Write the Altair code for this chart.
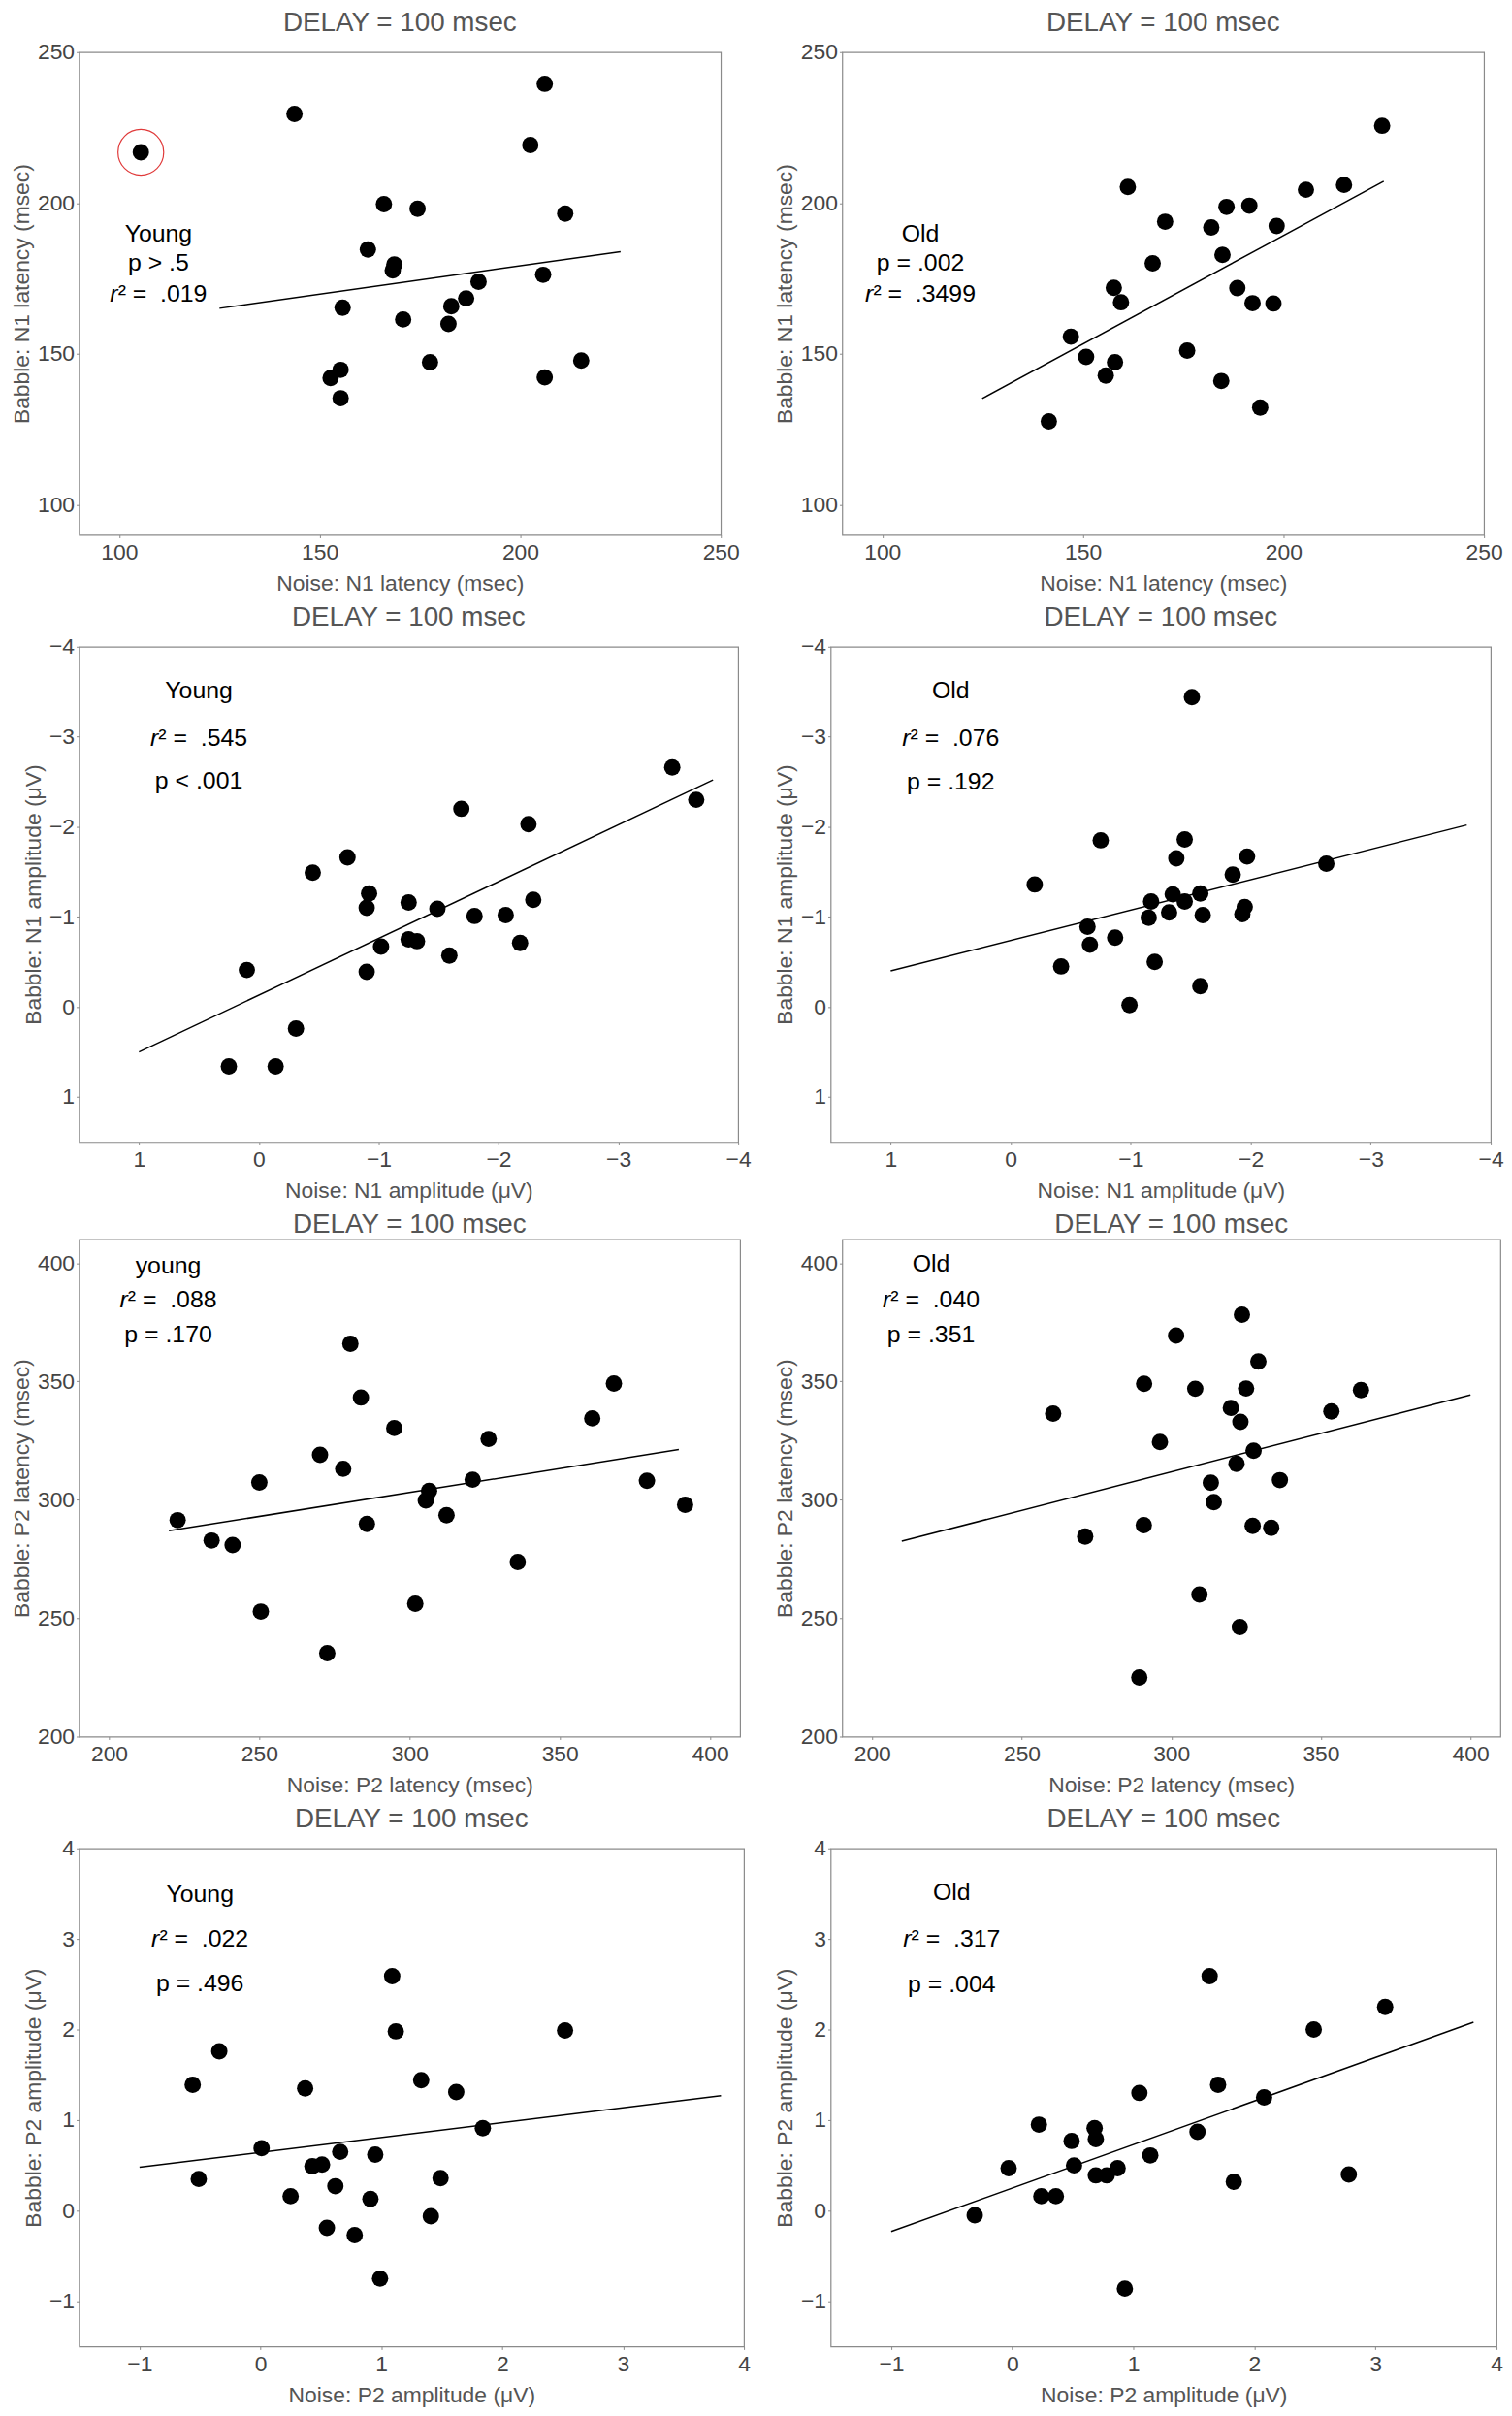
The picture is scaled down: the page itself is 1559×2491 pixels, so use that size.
import altair as alt
import pandas as pd

FONT = "Liberation Sans"
TITLE_TEXT = "DELAY = 100 msec"

# ---------------- Row 1: N1 latency ----------------
p1_x = [105.4, 143.7, 206.1, 202.5, 166.0, 174.4, 211.2, 162.0, 168.6, 168.2, 189.6, 205.7,
        186.5, 182.8, 155.7, 170.8, 182.1, 177.5, 215.2, 155.2, 152.7, 206.1, 155.2]
p1_y = [216.8, 229.5, 239.5, 219.2, 199.6, 198.1, 196.5, 184.6, 179.6, 177.7, 173.9, 176.2,
        168.4, 165.8, 165.3, 161.4, 159.9, 147.2, 147.8, 144.7, 142.0, 142.2, 135.3]
p1_line_x = [125, 225]
p1_line_y = [165.1, 183.9]
p1_circled_x = [105.4]
p1_circled_y = [216.8]
p1_text = ["Young", "p > .5"]
p1_text_x = [109.8, 109.8]
p1_text_y = [189.9, 180.0]
p1_r2 = ".019"
p1_r2_xy = [109.8, 169.9]

p2_x = [224.6, 161.2, 205.6, 215.1, 185.8, 191.5, 170.5, 182.0, 198.3, 184.8, 167.4, 157.7,
        188.5, 159.5, 192.3, 197.5, 147.0, 150.8, 158.0, 176.0, 155.7, 184.5, 194.2, 141.5]
p2_y = [225.6, 205.3, 204.4, 206.0, 198.7, 199.1, 193.8, 191.9, 192.4, 182.8, 180.0, 171.9,
        171.8, 167.1, 166.8, 166.7, 155.7, 149.0, 147.2, 151.1, 142.8, 141.0, 132.2, 127.6]
p2_line_x = [124.9, 225.0]
p2_line_y = [135.2, 207.2]
p2_text = ["Old", "p = .002"]
p2_text_x = [109.5, 109.5]
p2_text_y = [189.9, 180.0]
p2_r2 = ".3499"
p2_r2_xy = [109.5, 170.0]

# ---------------- Row 2: N1 amplitude ----------------
p3_x = [-3.45, -3.65, -1.69, -2.25, -0.74, -0.45, -0.92, -0.90, -1.25, -1.49, -2.29, -1.80,
        -2.06, -1.25, -1.32, -2.18, -1.02, -1.59, -0.90, 0.10, -0.31, 0.25, -0.14]
p3_y = [-2.66, -2.30, -2.20, -2.03, -1.66, -1.49, -1.26, -1.10, -1.16, -1.09, -1.19, -1.01,
        -1.02, -0.75, -0.73, -0.71, -0.67, -0.57, -0.39, -0.41, 0.24, 0.66, 0.66]
p3_line_x = [1.0, -3.79]
p3_line_y = [0.50, -2.52]
p3_text = ["Young", "p < .001"]
p3_text_x = [0.50, 0.50]
p3_text_y = [-3.51, -2.51]
p3_r2 = ".545"
p3_r2_xy = [0.50, -2.99]

p4_x = [-1.51, -0.75, -1.45, -1.38, -1.97, -2.63, -1.85, -0.20, -1.35, -1.58, -1.45, -1.17,
        -1.95, -1.93, -1.32, -1.15, -1.60, -0.64, -0.87, -0.66, -0.42, -1.20, -1.58, -0.99]
p4_y = [-3.44, -1.85, -1.86, -1.65, -1.67, -1.59, -1.47, -1.36, -1.25, -1.26, -1.17, -1.17,
        -1.11, -1.03, -1.05, -0.99, -1.02, -0.89, -0.77, -0.69, -0.45, -0.50, -0.23, -0.02]
p4_line_x = [1.0, -3.80]
p4_line_y = [-0.40, -2.02]
p4_text = ["Old", "p = .192"]
p4_text_x = [0.50, 0.50]
p4_text_y = [-3.51, -2.50]
p4_r2 = ".076"
p4_r2_xy = [0.50, -2.99]

# ---------------- Row 3: P2 latency ----------------
p5_x = [280.3, 368.0, 283.8, 360.8, 294.9, 326.3, 270.2, 277.9, 250.0, 321.0, 379.0, 306.5,
        305.4, 391.7, 312.3, 222.8, 285.8, 234.1, 241.1, 336.0, 301.9, 250.5, 272.6]
p5_y = [365.9, 349.1, 343.2, 334.4, 330.3, 325.7, 319.0, 313.1, 307.3, 308.5, 308.0, 303.7,
        299.7, 297.9, 293.5, 291.4, 289.8, 282.8, 280.9, 273.7, 256.1, 252.8, 235.2]
p5_line_x = [219.9, 389.6]
p5_line_y = [286.9, 321.2]
p5_text = ["young", "p = .170"]
p5_text_x = [219.7, 219.7]
p5_text_y = [398.8, 369.7]
p5_r2 = ".088"
p5_r2_xy = [219.7, 384.6]

p6_x = [323.6, 301.6, 329.1, 290.9, 308.0, 325.0, 363.4, 260.5, 353.5, 319.9, 323.1, 296.2,
        327.5, 321.8, 313.2, 336.3, 314.2, 290.8, 327.2, 333.4, 271.2, 309.4, 322.9, 289.3]
p6_y = [378.2, 369.4, 358.4, 349.0, 346.9, 347.0, 346.3, 336.4, 337.3, 338.8, 332.9, 324.4,
        320.7, 315.2, 307.2, 308.3, 299.0, 289.3, 289.0, 288.2, 284.5, 260.0, 246.3, 225.0]
p6_line_x = [209.9, 400.0]
p6_line_y = [282.5, 344.3]
p6_text = ["Old", "p = .351"]
p6_text_x = [219.7, 219.7]
p6_text_y = [399.5, 369.7]
p6_r2 = ".040"
p6_r2_xy = [219.7, 384.5]

# ---------------- Row 4: P2 amplitude ----------------
p7_x = [1.09, 1.12, 2.52, -0.34, -0.56, 0.37, 1.33, 1.62, 1.84, 0.01, 0.66, 0.95,
        0.43, 0.51, -0.51, 1.49, 0.62, 0.25, 0.91, 1.41, 0.55, 0.78, 0.99]
p7_y = [2.59, 1.98, 1.99, 1.76, 1.39, 1.35, 1.44, 1.31, 0.91, 0.69, 0.65, 0.62,
        0.49, 0.51, 0.35, 0.36, 0.27, 0.16, 0.13, -0.06, -0.19, -0.27, -0.75]
p7_line_x = [-1.0, 3.81]
p7_line_y = [0.48, 1.27]
p7_text = ["Young", "p = .496"]
p7_text_x = [-0.50, -0.50]
p7_text_y = [3.49, 2.51]
p7_r2 = ".022"
p7_r2_xy = [-0.50, 3.00]

p8_x = [1.63, 3.08, 2.49, 1.70, 1.05, 2.08, 0.22, 0.68, 1.53, 0.69, 0.49, 1.14,
        0.51, -0.03, 0.87, 0.69, 0.78, 2.78, 1.83, 0.24, 0.36, -0.31, 0.93]
p8_y = [2.59, 2.25, 2.00, 1.39, 1.30, 1.25, 0.95, 0.91, 0.87, 0.79, 0.77, 0.61,
        0.50, 0.47, 0.47, 0.39, 0.39, 0.40, 0.32, 0.16, 0.16, -0.05, -0.86]
p8_line_x = [-1.0, 3.81]
p8_line_y = [-0.23, 2.08]
p8_text = ["Old", "p = .004"]
p8_text_x = [-0.50, -0.50]
p8_text_y = [3.51, 2.50]
p8_r2 = ".317"
p8_r2_xy = [-0.50, 3.00]

# ---------------- Axes ----------------
lat1_ticks = [100, 150, 200, 250]
amp1_ticks = [1, 0, -1, -2, -3, -4]
lat2_ticks = [200, 250, 300, 350, 400]
amp2_ticks = [-1, 0, 1, 2, 3, 4]

ANN_SIZE = 25
# approximate glyph advance widths (em) of Liberation Sans, used to centre "r² = value"
_W = {"r": 0.333, "\u00b2": 0.333, " ": 0.278, "\u00a0": 0.278, "=": 0.584, ".": 0.278}


def text_width(s):
    return sum(_W.get(ch, 0.556) for ch in s) * ANN_SIZE


def panel(px, py, lx, ly, tx, ty, tt, r2, r2xy, xdom, ydom, xticks, yticks, xtitle, ytitle,
          width, height, title_offset, reverse=False, cx=None, cy=None):
    xs = alt.Scale(domain=xdom, reverse=reverse, nice=False, zero=False)
    ys = alt.Scale(domain=ydom, reverse=reverse, nice=False, zero=False)
    xax = alt.Axis(values=xticks, title=xtitle, labelFlush=False, labelOverlap=False, format="d")
    yax = alt.Axis(values=yticks, title=ytitle, labelOverlap=False, format="d")

    pts = alt.Chart(pd.DataFrame({"x": px, "y": py})).mark_circle(
        size=290, color="black", opacity=1
    ).encode(x=alt.X("x:Q", scale=xs, axis=xax), y=alt.Y("y:Q", scale=ys, axis=yax))

    line = alt.Chart(pd.DataFrame({"x": lx, "y": ly})).mark_line(
        color="black", strokeWidth=1.5
    ).encode(x="x:Q", y="y:Q")

    txt = alt.Chart(pd.DataFrame({"x": tx, "y": ty, "t": tt})).mark_text(
        font=FONT, fontSize=ANN_SIZE, color="black", align="center", baseline="middle"
    ).encode(x="x:Q", y="y:Q", text="t:N")

    # "r² =  value" with an italic r
    rest = "\u00b2 =\u00a0 " + r2
    full_w = text_width("r" + rest)
    r_w = _W["r"] * ANN_SIZE
    r2df = pd.DataFrame({"x": [r2xy[0]], "y": [r2xy[1]], "r": ["r"], "rest": [rest]})
    r_italic = alt.Chart(r2df).mark_text(
        font=FONT, fontSize=ANN_SIZE, fontStyle="italic", color="black",
        align="left", baseline="middle", dx=-full_w / 2
    ).encode(x="x:Q", y="y:Q", text="r:N")
    r_rest = alt.Chart(r2df).mark_text(
        font=FONT, fontSize=ANN_SIZE, color="black",
        align="left", baseline="middle", dx=-full_w / 2 + r_w
    ).encode(x="x:Q", y="y:Q", text="rest:N")

    layers = [pts, line, txt, r_italic, r_rest]
    if cx is not None:
        ring = alt.Chart(pd.DataFrame({"x": cx, "y": cy})).mark_point(
            size=2250, shape="circle", filled=False, color="#e03a3a", strokeWidth=1.2, opacity=1
        ).encode(x="x:Q", y="y:Q")
        layers.append(ring)

    return alt.layer(*layers).properties(
        width=width, height=height,
        title=alt.TitleParams(TITLE_TEXT, font=FONT, fontSize=28, fontWeight="normal",
                              color="#555555", offset=title_offset, anchor="middle"),
    )


c1 = panel(p1_x, p1_y, p1_line_x, p1_line_y, p1_text_x, p1_text_y, p1_text, p1_r2, p1_r2_xy,
           [90, 250], [90, 250], lat1_ticks, lat1_ticks,
           "Noise: N1 latency (msec)", "Babble: N1 latency (msec)", 666, 501, 5,
           cx=p1_circled_x, cy=p1_circled_y)
c2 = panel(p2_x, p2_y, p2_line_x, p2_line_y, p2_text_x, p2_text_y, p2_text, p2_r2, p2_r2_xy,
           [90, 250], [90, 250], lat1_ticks, lat1_ticks,
           "Noise: N1 latency (msec)", "Babble: N1 latency (msec)", 666, 501, 5)
c3 = panel(p3_x, p3_y, p3_line_x, p3_line_y, p3_text_x, p3_text_y, p3_text, p3_r2, p3_r2_xy,
           [-4, 1.5], [-4, 1.5], amp1_ticks, amp1_ticks,
           "Noise: N1 amplitude (\u03bcV)", "Babble: N1 amplitude (\u03bcV)", 684, 514, 5,
           reverse=True)
c4 = panel(p4_x, p4_y, p4_line_x, p4_line_y, p4_text_x, p4_text_y, p4_text, p4_r2, p4_r2_xy,
           [-4, 1.5], [-4, 1.5], amp1_ticks, amp1_ticks,
           "Noise: N1 amplitude (\u03bcV)", "Babble: N1 amplitude (\u03bcV)", 685, 514, 5,
           reverse=True)
c5 = panel(p5_x, p5_y, p5_line_x, p5_line_y, p5_text_x, p5_text_y, p5_text, p5_r2, p5_r2_xy,
           [190, 410], [200, 410], lat2_ticks, lat2_ticks,
           "Noise: P2 latency (msec)", "Babble: P2 latency (msec)", 686, 516, 1)
c6 = panel(p6_x, p6_y, p6_line_x, p6_line_y, p6_text_x, p6_text_y, p6_text, p6_r2, p6_r2_xy,
           [190, 410], [200, 410], lat2_ticks, lat2_ticks,
           "Noise: P2 latency (msec)", "Babble: P2 latency (msec)", 683, 516, 1)
c7 = panel(p7_x, p7_y, p7_line_x, p7_line_y, p7_text_x, p7_text_y, p7_text, p7_r2, p7_r2_xy,
           [-1.5, 4], [-1.5, 4], amp2_ticks, amp2_ticks,
           "Noise: P2 amplitude (\u03bcV)", "Babble: P2 amplitude (\u03bcV)", 690, 517, 5)
c8 = panel(p8_x, p8_y, p8_line_x, p8_line_y, p8_text_x, p8_text_y, p8_text, p8_r2, p8_r2_xy,
           [-1.5, 4], [-1.5, 4], amp2_ticks, amp2_ticks,
           "Noise: P2 amplitude (\u03bcV)", "Babble: P2 amplitude (\u03bcV)", 691, 517, 5)

chart = alt.concat(c1, c2, c3, c4, c5, c6, c7, c8, columns=2).properties(
    align="none",
    spacing={"row": 8, "column": 23},
    padding={"left": 3, "top": -7, "right": 0, "bottom": 0},
    background="white",
).configure_view(
    stroke="#8a8a8a", strokeWidth=1.2
).configure_axis(
    domain=False, grid=False,
    labelFont=FONT, labelFontSize=23, labelColor="#444444",
    titleFont=FONT, titleFontSize=23, titleColor="#555555", titleFontWeight="normal",
    tickColor="#8a8a8a", tickSize=3,
).configure_axisX(
    labelPadding=4, titlePadding=9,
).configure_axisY(
    labelPadding=2, titlePadding=4,
)

chart.save("out.html", embed_options={"renderer": "svg", "actions": False})
